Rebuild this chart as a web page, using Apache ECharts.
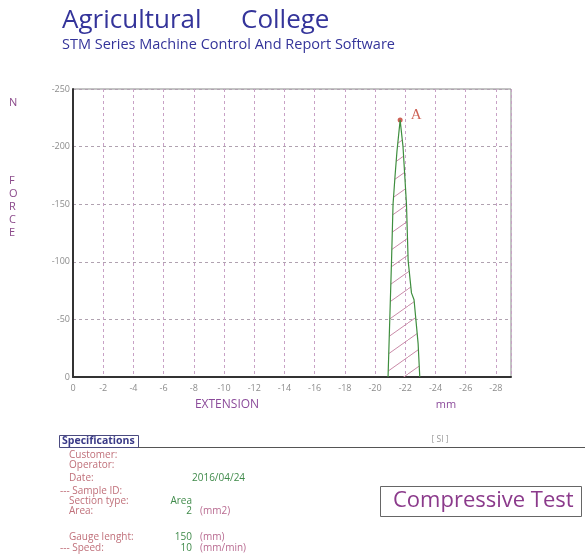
<!DOCTYPE html>
<html>
<head>
<meta charset="utf-8">
<script src="https://cdn.jsdelivr.net/npm/echarts@6/dist/echarts.min.js"></script>
<style>
  html, body { margin: 0; padding: 0; background: #fff; }
  #chart { width: 585px; height: 555px; }
</style>
</head>
<body>
<div id="chart"></div>
<script>
// force / extension record, magnitudes (the axes print them with a minus sign)
const extension = [20.86, 21.09, 21.19, 21.32, 21.45, 21.66, 21.85, 22.08, 22.19, 22.41, 22.58, 22.85, 22.96]
const force = [0, 101, 150, 174, 196, 223, 200, 150, 101, 73, 67, 29, 0]
const peak = [21.66, 223]

// specifications block
const specLabels = ['Customer:', 'Operator:', 'Date:', '--- Sample ID:', 'Section type:', 'Area:', 'Gauge lenght:', '--- Speed:']
const specValues = ['', '', '2016/04/24', '', 'Area', '2', '150', '10']
const specUnits = ['', '', '', '', '', '(mm2)', '(mm)', '(mm/min)']

const FONT = '"Open Sans", "Noto Sans", sans-serif'
const rowY = [455, 465, 478, 491, 501, 511, 537, 548]

function hatch() {
  const c = document.createElement('canvas')
  c.width = 24
  c.height = 17
  const g = c.getContext('2d')
  g.strokeStyle = '#c98aa8'
  g.lineWidth = 1
  g.beginPath()
  g.moveTo(0, 17)
  g.lineTo(24, 0)
  g.stroke()
  return c
}

function txt(text, x, y, size, color, extra) {
  return {
    type: 'text', x: x, y: y,
    style: Object.assign({
      text: text, fill: color, font: size + 'px ' + FONT,
      align: 'left', verticalAlign: 'middle'
    }, extra || {})
  }
}

const graphics = [
  txt('Agricultural', 62, 21, 26, '#34349a'),
  txt('College', 241, 21, 26, '#34349a'),
  txt('STM Series Machine Control And Report Software', 62, 45, 14.5, '#34349a'),
  txt('N', 9, 103, 11, '#8b4a8b'),
  txt('F\nO\nR\nC\nE', 9, 174, 11, '#8b4a8b', { verticalAlign: 'top', lineHeight: 13 }),
  txt('EXTENSION', 227, 405, 12, '#8b4a9a', { align: 'center' }),
  txt('mm', 446, 405, 11, '#8b4a9a', { align: 'center' }),
  { type: 'rect', shape: { x: 59.5, y: 435.5, width: 79, height: 12 }, style: { fill: null, stroke: '#4a4a80', lineWidth: 1 } },
  txt('Specifications', 62, 441.5, 10.5, '#3a3a88', { font: 'bold 10.5px ' + FONT }),
  { type: 'line', shape: { x1: 138, y1: 447.5, x2: 585, y2: 447.5 }, style: { stroke: '#555', lineWidth: 1 } },
  txt('[ SI ]', 440, 440, 8.5, '#9a9a9a', { align: 'center' }),
  { type: 'rect', shape: { x: 380.5, y: 486.5, width: 201, height: 30 }, style: { fill: null, stroke: '#666', lineWidth: 1 } },
  txt('Compressive Test', 393, 501, 22, '#8b3a8b')
]

specLabels.forEach((s, i) => {
  const indent = s.indexOf('---') === 0 ? 60 : 69
  graphics.push(txt(s, indent, rowY[i], 10, '#c0707a'))
  if (specValues[i]) {
    const isDate = specValues[i].indexOf('/') > 0
    graphics.push(txt(specValues[i], 192, rowY[i], 10, '#3f8a4a', { align: isDate ? 'left' : 'right' }))
  }
  if (specUnits[i]) graphics.push(txt(specUnits[i], 200, rowY[i], 10, '#b86a90'))
})

const curve = extension.map((x, i) => [x, force[i]])
const neg = v => (v ? '-' + v : '0')

const chart = echarts.init(document.getElementById('chart'))
chart.setOption({
  animation: false,
  backgroundColor: '#fff',
  grid: { left: 73, top: 89, width: 438, height: 288, show: true, borderColor: '#888', borderWidth: 1 },
  xAxis: {
    type: 'value', min: 0, max: 29, interval: 2,
    axisLine: { show: true, lineStyle: { color: '#333', width: 2 } },
    axisTick: { show: false },
    splitLine: { show: true, lineStyle: { color: '#c8a2c6', type: [3, 3], width: 1 } },
    axisLabel: { formatter: neg, showMaxLabel: false, color: '#8c8c8c', fontSize: 9, fontFamily: FONT, margin: 7 }
  },
  yAxis: {
    type: 'value', min: 0, max: 250, interval: 50,
    axisLine: { show: true, lineStyle: { color: '#333', width: 2 } },
    axisTick: { show: false },
    splitLine: { show: true, lineStyle: { color: '#b0a2b0', type: [3, 3], width: 1 } },
    axisLabel: { formatter: neg, color: '#8c8c8c', fontSize: 9, fontFamily: FONT, margin: 3 }
  },
  series: [
    {
      type: 'line', data: curve, symbol: 'none', smooth: false,
      lineStyle: { color: '#3e8e3e', width: 1.2 },
      areaStyle: { color: { image: hatch(), repeat: 'repeat' }, opacity: 1 }
    },
    {
      type: 'scatter', data: [peak], symbolSize: 5,
      itemStyle: { color: '#c0392b' },
      label: {
        show: true, formatter: 'A', position: 'right', offset: [3, -5],
        color: '#c0392b', fontSize: 15, fontFamily: '"Liberation Serif", serif'
      }
    }
  ],
  graphic: graphics
})
</script>
</body>
</html>
